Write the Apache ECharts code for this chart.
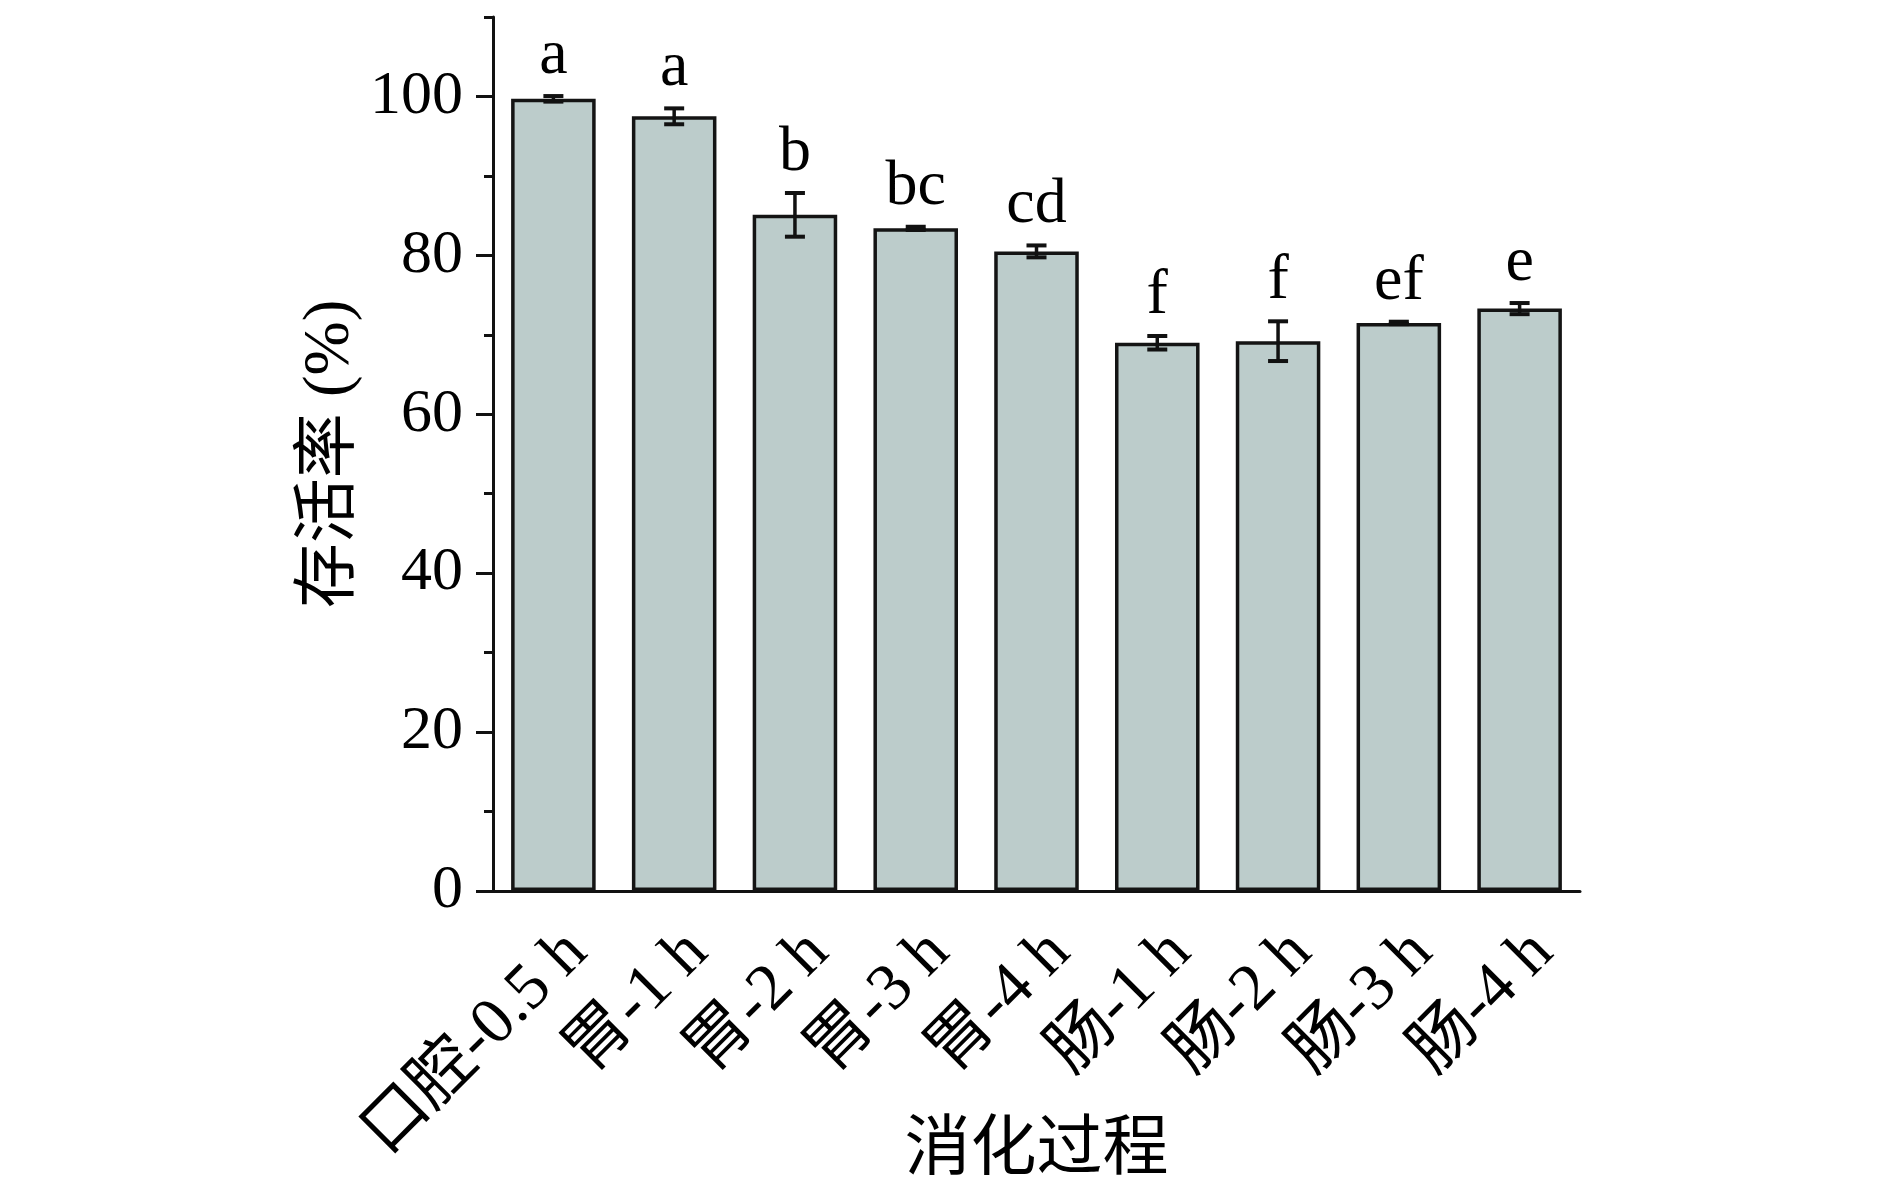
<!DOCTYPE html>
<html><head><meta charset="utf-8">
<script src="https://cdn.jsdelivr.net/npm/echarts@6/dist/echarts.min.js"></script>
<style>html,body{margin:0;padding:0;background:#fff}#c{width:1890px;height:1187px}</style>
</head><body><div id="c"></div>
<script>
const categories = ['口腔-0.5 h','胃-1 h','胃-2 h','胃-3 h','胃-4 h','肠-1 h','肠-2 h','肠-3 h','肠-4 h'];
const survival = [99.7, 97.5, 85.1, 83.4, 80.5, 69.0, 69.2, 71.5, 73.3];
const errors = [0.35, 1.0, 2.75, 0.2, 0.75, 0.85, 2.5, 0.15, 0.7];
const letters = ['a','a','b','bc','cd','f','f','ef','e'];
const yTicks = [0,20,40,60,80,100];
const yMinorTicks = [10,30,50,70,90,110];

const FONT = "'Liberation Serif', 'Noto Sans CJK SC', serif";
const INK = '#111';

const chart = echarts.init(document.getElementById('c'), null, {renderer:'canvas'});
chart.setOption({
  animation: false,
  backgroundColor: '#fff',
  grid: {left: 493, right: 310, top: 17, bottom: 296, containLabel: false, outerBoundsMode: 'none'},
  xAxis: {
    type: 'category',
    data: categories,
    axisLine: {lineStyle: {color: INK, width: 3}},
    axisTick: {alignWithLabel: true, length: 15, lineStyle: {color: INK, width: 3}},
    axisLabel: {rotate: 45, fontSize: 66, fontFamily: FONT, color: '#000', margin: 28, align: 'right', verticalAlign: 'top', interval: 0},
    name: '消化过程',
    nameLocation: 'middle',
    nameGap: 228,
    nameMoveOverlap: false,
    nameTextStyle: {fontSize: 66, fontFamily: FONT, color: '#000', verticalAlign: 'top'}
  },
  yAxis: [{
    type: 'value', min: 0, max: 110, position: 'left',
    axisLine: {show: true, lineStyle: {color: INK, width: 3}},
    axisTick: {show: true, customValues: yTicks, length: 17, lineStyle: {color: INK, width: 3}},
    axisLabel: {customValues: yTicks, fontSize: 62, fontFamily: FONT, color: '#000', margin: 30},
    splitLine: {show: false},
    name: '存活率 (%)',
    nameLocation: 'middle',
    nameGap: 130,
    nameMoveOverlap: false,
    nameTextStyle: {fontSize: 65, fontFamily: FONT, color: '#000'}
  }, {
    type: 'value', min: 0, max: 110, position: 'left',
    axisLine: {show: false},
    axisTick: {show: true, customValues: yMinorTicks, length: 9, lineStyle: {color: INK, width: 3}},
    axisLabel: {show: false},
    splitLine: {show: false}
  }],
  series: [{
    type: 'bar',
    data: survival,
    barWidth: '70%',
    itemStyle: {color: '#bccccb', borderColor: '#141414', borderWidth: 3.5}
  }, {
    type: 'custom',
    z: 5,
    data: categories.map((c, i) => [i, survival[i], errors[i]]),
    encode: {x: 0, y: 1},
    renderItem: function (params, api) {
      const i = api.value(0), m = api.value(1), e = api.value(2);
      const top = api.coord([i, m + e]);
      const bot = api.coord([i, m - e]);
      const hw = 10;
      const ls = {stroke: INK, lineWidth: 3.5};
      return {type: 'group', children: [
        {type: 'line', shape: {x1: top[0], y1: top[1], x2: bot[0], y2: bot[1]}, style: ls},
        {type: 'line', shape: {x1: top[0] - hw, y1: top[1], x2: top[0] + hw, y2: top[1]}, style: {stroke: INK, lineWidth: 4}},
        {type: 'line', shape: {x1: bot[0] - hw, y1: bot[1], x2: bot[0] + hw, y2: bot[1]}, style: {stroke: INK, lineWidth: 4}},
        {type: 'text', x: top[0], y: top[1] - 8, style: {text: letters[params.dataIndex], fontSize: 64, fontFamily: FONT, fill: '#000', align: 'center', verticalAlign: 'bottom'}}
      ]};
    }
  }]
});
</script></body></html>
